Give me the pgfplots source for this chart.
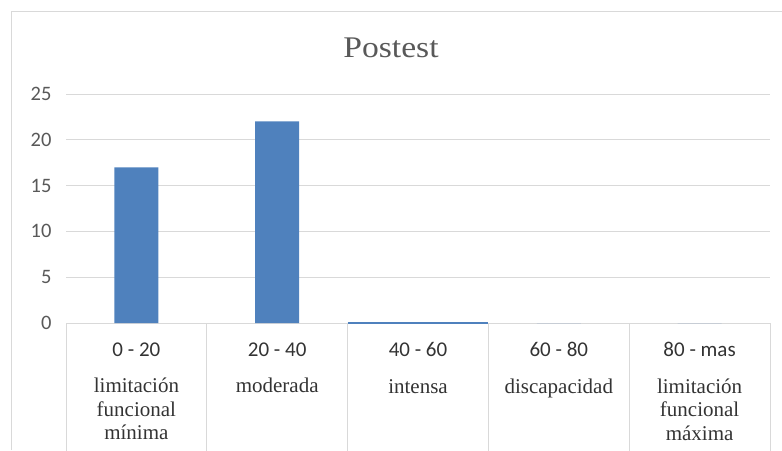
\documentclass[border=0pt]{standalone}
\usepackage{fontspec}
\setmainfont{Liberation Serif}
\newfontfamily\calib{Carlito}
\newfontfamily\titlefont[FakeStretch=1.12]{Liberation Serif}
\usepackage{pgfplots}
\pgfplotsset{compat=1.18}

\definecolor{barblue}{HTML}{4F81BD}
\definecolor{gridgray}{HTML}{D9D9D9}
\definecolor{ticktext}{HTML}{595959}
\definecolor{cattext}{HTML}{333333}
\definecolor{titletext}{HTML}{595959}

\begin{document}
\begin{tikzpicture}[x=1pt,y=1pt]
\useasboundingbox (0,0) rectangle (782,450);
% chart frame
\draw[gridgray, line width=1pt] (11,0) -- (11,438) -- (782,438);
% title
\node[anchor=base, text=titletext, font=\titlefont\fontsize{30}{36}\selectfont] at (391,392) {Postest};
\begin{axis}[
  at={(66pt,127pt)}, anchor=south west,
  scale only axis, width=704pt, height=229pt,
  xmin=-0.5, xmax=4.5, ymin=0, ymax=25,
  clip=false,
  axis x line=bottom, axis y line=left,
  x axis line style={gridgray, line width=1pt, -},
  y axis line style={draw=none},
  ymajorgrids, grid style={gridgray, line width=1pt},
  ytick={0,5,...,25},
  major tick length=0pt,
  /pgf/number format/assume math mode=true,
  yticklabel style={font=\calib\fontsize{20.5}{24}\selectfont, text=ticktext, xshift=-11pt},
  xtick={0,...,4},
  xticklabels={
    {{\calib 0 - 20}\\[13pt]limitación\\funcional\\mínima},
    {{\calib 20 - 40}\\[13pt]moderada},
    {{\calib 40 - 60}\\[13pt]intensa},
    {{\calib 60 - 80}\\[13pt]discapacidad},
    {{\calib 80 - mas}\\[13pt]limitación\\funcional\\máxima}},
  xticklabel style={font=\fontsize{21}{23.5}\selectfont, text=cattext, align=center, anchor=north, yshift=-16pt},
  extra x ticks={-0.5,0.5,1.5,2.5,3.5,4.5},
  extra x tick labels={},
  extra x tick style={major tick length=130pt, tick align=outside, tick style={gridgray, line width=1pt}, grid=none},
]
\addplot[ybar, bar width=44pt, fill=barblue, draw=none] coordinates {(0,17) (1,22) (2,0) (3,0) (4,0)};
\addplot[barblue, line width=1.5pt, forget plot] coordinates {(1.5,0) (2.5,0)};
\end{axis}
\end{tikzpicture}
\end{document}
